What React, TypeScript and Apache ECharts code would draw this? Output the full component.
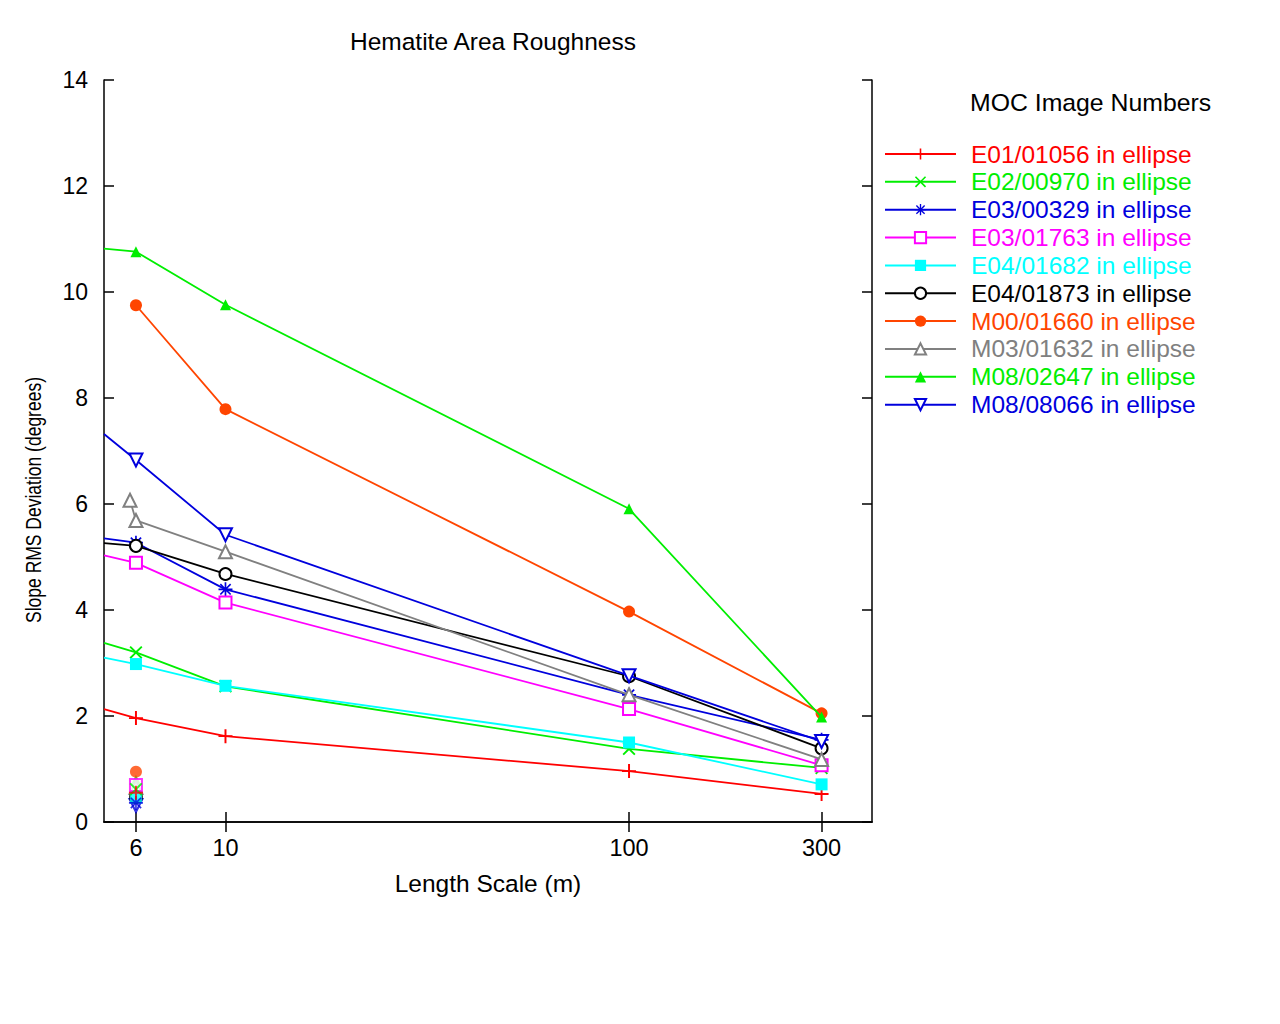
import { useEffect, useRef } from "react";
import * as echarts from "echarts";

// ---- data ----
const seriesNames = [
  "E01/01056 in ellipse",
  "E02/00970 in ellipse",
  "E03/00329 in ellipse",
  "E03/01763 in ellipse",
  "E04/01682 in ellipse",
  "E04/01873 in ellipse",
  "M00/01660 in ellipse",
  "M03/01632 in ellipse",
  "M08/02647 in ellipse",
  "M08/08066 in ellipse",
];
const colors = [
  "#ff0000",
  "#00ee00",
  "#0000dd",
  "#ff00ff",
  "#00ffff",
  "#000000",
  "#ff4500",
  "#808080",
  "#00ee00",
  "#0000dd",
];
const lengthScales = [6, 10, 100, 300];
const edgeScale = 5; // left frame edge, lines enter from outside the plot
const edgeValues = [2.13, 3.38, 5.35, 5.03, 3.1, 5.26, null, null, 10.82, 7.32];
const valuesAt6 = [1.96, 3.2, 5.27, 4.89, 2.98, 5.21, 9.75, 5.69, 10.76, 6.83];
const valuesAt10 = [1.62, 2.56, 4.39, 4.14, 2.57, 4.68, 7.79, 5.1, 9.76, 5.42];
const valuesAt100 = [0.96, 1.38, 2.4, 2.13, 1.5, 2.75, 3.97, 2.4, 5.91, 2.76];
const valuesAt300 = [0.53, 1.02, 1.55, 1.07, 0.71, 1.39, 2.05, 1.18, 1.98, 1.52];
const loneAt6 = [0.55, 0.62, 0.36, 0.7, 0.46, 0.47, 0.95, 0.65, 0.79, 0.31];
const m03Extra = [5.8, 6.07]; // extra M03/01632 point
const xTicks = [6, 10, 100, 300];

const PLUS = "path://M8.6,0H11.4V8.6H20V11.4H11.4V20H8.6V11.4H0V8.6H8.6Z";
const CROSS =
  "path://M0,2L2,0L10,8L18,0L20,2L12,10L20,18L18,20L10,12L2,20L0,18L8,10Z";
const STAR =
  "path://M8.8,0H11.2V8.8H20V11.2H11.2V20H8.8V11.2H0V8.8H8.8Z M1.8,3.5L3.5,1.8L10,8.3L16.5,1.8L18.2,3.5L11.7,10L18.2,16.5L16.5,18.2L10,11.7L3.5,18.2L1.8,16.5L8.3,10Z";
const symbols = [
  PLUS,
  CROSS,
  STAR,
  "emptyRect",
  "rect",
  "emptyCircle",
  "circle",
  "emptyTriangle",
  "triangle",
  "emptyTriangle",
];
const symbolSizes = [14, 13, 14, 12, 12, 12, 12, 13, 11, 13];
const symbolRotates = [0, 0, 0, 0, 0, 0, 0, 0, 0, 180];

const FONT = "Liberation Sans, Arial, Helvetica, sans-serif";

export default function App() {
  const ref = useRef<HTMLDivElement>(null);
  useEffect(() => {
    if (!ref.current) return;
    const chart = echarts.init(ref.current, undefined, { renderer: "svg" });

    const lineSeries: any[] = seriesNames.map((name, i) => {
      const data: any[] = [];
      if (edgeValues[i] !== null) {
        data.push({ value: [edgeScale, edgeValues[i]], symbol: "none" });
      }
      if (i === 7) data.push([m03Extra[0], m03Extra[1]]);
      const vals = [valuesAt6[i], valuesAt10[i], valuesAt100[i], valuesAt300[i]];
      lengthScales.forEach((x, k) => data.push([x, vals[k]]));
      const empty = symbols[i].startsWith("empty");
      return {
        type: "line",
        name,
        data,
        xAxisIndex: 0,
        yAxisIndex: 0,
        clip: true,
        symbol: symbols[i],
        symbolSize: symbolSizes[i],
        symbolRotate: symbolRotates[i],
        showAllSymbol: true,
        lineStyle: { color: colors[i], width: 1.8 },
        itemStyle: empty
          ? { color: colors[i], borderColor: colors[i], borderWidth: 1.6 }
          : { color: colors[i], borderWidth: 0 },
        z: 2 + i,
      };
    });
    const loneSeries: any[] = seriesNames.map((name, i) => {
      const empty = symbols[i].startsWith("empty");
      return {
        type: "scatter",
        name,
        data: [[6, loneAt6[i]]],
        symbol: symbols[i],
        symbolSize: symbolSizes[i],
        symbolRotate: symbolRotates[i],
        itemStyle: empty
          ? { color: colors[i], borderColor: colors[i], borderWidth: 1.6 }
          : { color: colors[i], borderWidth: 0 },
        z: 20 - i,
      };
    });

    const option: any = {
      animation: false,
      backgroundColor: "#ffffff",
      textStyle: { fontFamily: FONT },
      title: [
        {
          text: "Hematite Area Roughness",
          left: 488,
          top: 24,
          padding: 5,
          textAlign: "center",
          textStyle: { fontFamily: FONT, fontSize: 24.5, fontWeight: "normal", color: "#000" },
        },
        {
          text: "MOC Image Numbers",
          left: 965,
          top: 85,
          padding: 5,
          textStyle: { fontFamily: FONT, fontSize: 24.8, fontWeight: "normal", color: "#000" },
        },
      ],
      legend: {
        orient: "vertical",
        left: 884,
        top: 141.5,
        padding: 0,
        itemWidth: 71,
        itemHeight: 14,
        itemGap: 2.85,
        selectedMode: false,
        data: seriesNames.map((n, i) => ({ name: n, textStyle: { color: colors[i] } })),
        textStyle: { fontFamily: FONT, fontSize: 24.5, padding: [0, 0, 0, 10] },
      },
      grid: { left: 104, top: 80, right: 408, bottom: 202, containLabel: false },
      xAxis: [
        {
          type: "log",
          min: 5,
          max: 400,
          position: "bottom",
          name: "Length Scale (m)",
          nameLocation: "middle",
          nameGap: 49,
          nameTextStyle: { fontFamily: FONT, fontSize: 24.5, color: "#000" },
          axisLine: { show: true, lineStyle: { color: "#000", width: 1.5 } },
          axisTick: {
            show: true,
            inside: true,
            length: 10,
            customValues: xTicks,
            lineStyle: { color: "#000", width: 1.5 },
          },
          axisLabel: {
            show: true,
            margin: 14,
            customValues: xTicks,
            fontFamily: FONT,
            fontSize: 23.5,
            color: "#000",
            formatter: (v: number) => String(Math.round(v)),
          },
          splitLine: { show: false },
          minorTick: { show: false },
        },
        {
          type: "log",
          min: 5,
          max: 400,
          position: "top",
          axisLine: { show: true, lineStyle: { color: "#000", width: 1.5 } },
          axisTick: {
            show: true,
            inside: true,
            length: 10,
            customValues: xTicks,
            lineStyle: { color: "#000", width: 1.5 },
          },
          axisLabel: { show: false },
          splitLine: { show: false },
        },
      ],
      yAxis: [
        {
          type: "value",
          min: 0,
          max: 14,
          interval: 2,
          position: "left",
          axisLine: { show: true, lineStyle: { color: "#000", width: 1.5 } },
          axisTick: { show: true, inside: true, length: 10, lineStyle: { color: "#000", width: 1.5 } },
          axisLabel: { show: true, margin: 16, fontFamily: FONT, fontSize: 23, color: "#000" },
          splitLine: { show: false },
        },
        {
          type: "value",
          min: 0,
          max: 14,
          interval: 2,
          position: "right",
          axisLine: { show: true, lineStyle: { color: "#000", width: 1.5 } },
          axisTick: { show: true, inside: true, length: 10, lineStyle: { color: "#000", width: 1.5 } },
          axisLabel: { show: false },
          splitLine: { show: false },
        },
      ],
      graphic: [
        {
          type: "text",
          x: 33,
          y: 500,
          rotation: Math.PI / 2,
          scaleY: 1.3,
          style: {
            text: "Slope RMS Deviation (degrees)",
            font: `17.5px ${FONT}`,
            fill: "#000",
            textAlign: "center",
            textVerticalAlign: "middle",
          },
        },
      ],
      series: [...lineSeries, ...loneSeries],
    };
    chart.setOption(option);
    return () => chart.dispose();
  }, []);
  return (
    <div
      ref={ref}
      style={{ position: "absolute", left: 0, top: 0, width: 1280, height: 1024 }}
    />
  );
}
